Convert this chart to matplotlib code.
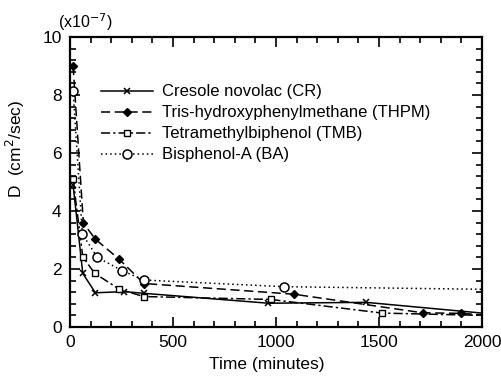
import numpy as np
import matplotlib
matplotlib.use("Agg")
import matplotlib.pyplot as plt
from matplotlib.ticker import MultipleLocator

plt.rcParams['font.family'] = ['Liberation Sans', 'DejaVu Sans']

# diffusion coefficient D in units of 1e-7 cm^2/sec vs time (minutes)
t_CR = [15, 62, 123, 264, 361, 963, 1437, 2000]
D_CR = [4.9, 1.85, 1.18, 1.22, 1.16, 0.82, 0.85, 0.48]

t_THPM = [15, 65, 123, 238, 359, 1087, 1712, 1900, 2000]
D_THPM = [9.0, 3.58, 3.03, 2.34, 1.5, 1.13, 0.49, 0.47, 0.42]

t_TMB = [15, 62, 120, 240, 358, 975, 1515, 2000]
D_TMB = [5.1, 2.42, 1.85, 1.3, 1.05, 0.95, 0.48, 0.4]

t_BA = [15, 60, 133, 254, 359, 1040, 2000]
D_BA = [8.15, 3.2, 2.4, 1.94, 1.62, 1.39, 1.3]

labels = ["Cresole novolac (CR)", "Tris-hydroxyphenylmethane (THPM)",
          "Tetramethylbiphenol (TMB)", "Bisphenol-A (BA)"]

fig = plt.figure(figsize=(5.01, 3.81), dpi=100)
ax = fig.add_axes([70/501, 1-327/381, 412/501, 290/381])

# last point of each run sits on the right frame with no marker drawn
ax.plot(t_CR, D_CR, c="k", lw=1.1, ls="-", marker="x", ms=4.5, mew=1.1,
        markevery=slice(0, len(t_CR)-1), label=labels[0])
ax.plot(t_THPM, D_THPM, c="k", lw=1.1, ls=(0, (6, 3)), marker="D", ms=4.5,
        markevery=slice(0, len(t_THPM)-1), label=labels[1])
ax.plot(t_TMB, D_TMB, c="k", lw=1.1, ls=(0, (6, 2, 1.5, 2)), marker="s", ms=4.5,
        mfc="white", mew=1.0, markevery=slice(0, len(t_TMB)-1), label=labels[2])
ax.plot(t_BA, D_BA, c="k", lw=1.1, ls=(0, (1, 2)), marker="o", ms=6.5,
        mfc="white", mew=1.1, markevery=slice(0, len(t_BA)-1), label=labels[3])

ax.set_xlim(0, 2000)
ax.set_ylim(0, 10)
ax.xaxis.set_major_locator(MultipleLocator(500))
ax.xaxis.set_minor_locator(MultipleLocator(100))
ax.yaxis.set_major_locator(MultipleLocator(2))
ax.yaxis.set_minor_locator(MultipleLocator(0.4))
ax.tick_params(which="both", direction="in", top=True, right=True, width=1.2,
               labelsize=12.5, pad=6)
ax.tick_params(which="major", length=7)
ax.tick_params(which="minor", length=4)
for s in ax.spines.values():
    s.set_linewidth(1.6)

leg = ax.legend(loc="upper left", bbox_to_anchor=(0.055, 0.865), frameon=False,
                fontsize=12, handlelength=3.1, handletextpad=0.55,
                labelspacing=0.36, borderpad=0, numpoints=1)

fig.text(58/501, 1-28/381, r"(x10$^{-7}$)", fontsize=11.5, ha="left", va="baseline")
fig.text(15/501, 1-149/381, r"D  (cm$^2$/sec)", rotation=90, fontsize=12.5,
         ha="center", va="center")
fig.text(267/501, 1-365/381, "Time (minutes)", fontsize=12.5, ha="center", va="center")

plt.savefig("out.png", dpi=100)
